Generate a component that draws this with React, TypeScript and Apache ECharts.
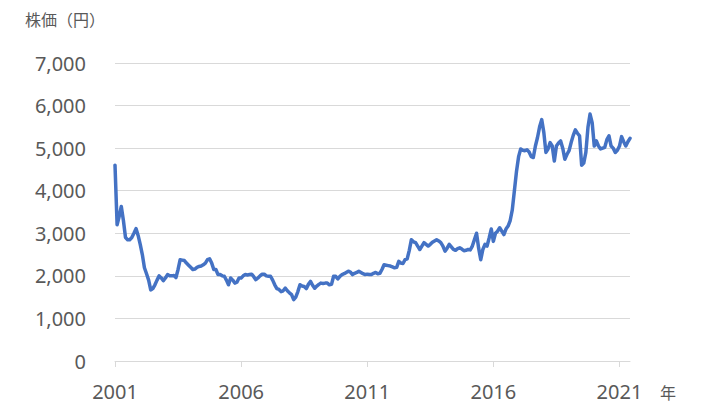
import React, { useEffect, useRef } from "react";
import * as echarts from "echarts";

// Monthly closing price (yen), Jan 2001 – Jun 2021
const price2001 = [4600, 3200, 3400, 3630, 3300, 2900, 2850, 2850, 2900, 3000, 3110, 2950];
const price2002 = [2740, 2500, 2190, 2050, 1900, 1670, 1700, 1790, 1900, 2000, 1950, 1890];
const price2003 = [1950, 2030, 2000, 2000, 2010, 1960, 2150, 2380, 2370, 2360, 2300, 2250];
const price2004 = [2200, 2150, 2160, 2200, 2220, 2230, 2260, 2300, 2380, 2400, 2300, 2150];
const price2005 = [2150, 2030, 2030, 2000, 1990, 1900, 1790, 1950, 1900, 1830, 1850, 1950];
const price2006 = [1950, 2000, 2030, 2020, 2030, 2040, 1980, 1910, 1950, 2000, 2040, 2040];
const price2007 = [2000, 1990, 1990, 1900, 1790, 1700, 1680, 1630, 1650, 1710, 1650, 1600];
const price2008 = [1560, 1440, 1500, 1630, 1790, 1760, 1750, 1700, 1800, 1870, 1780, 1710];
const price2009 = [1760, 1800, 1830, 1820, 1830, 1830, 1790, 1800, 1990, 1990, 1930, 1990];
const price2010 = [2030, 2050, 2080, 2110, 2090, 2030, 2060, 2080, 2110, 2080, 2050, 2030];
const price2011 = [2040, 2030, 2030, 2060, 2080, 2050, 2060, 2150, 2260, 2250, 2240, 2230];
const price2012 = [2210, 2190, 2200, 2340, 2300, 2290, 2380, 2400, 2600, 2850, 2800, 2780];
const price2013 = [2700, 2620, 2700, 2780, 2740, 2700, 2740, 2790, 2820, 2850, 2820, 2780];
const price2014 = [2700, 2580, 2650, 2740, 2680, 2620, 2600, 2640, 2660, 2630, 2590, 2600];
const price2015 = [2620, 2610, 2700, 2850, 3000, 2650, 2380, 2620, 2740, 2700, 2890, 3100];
const price2016 = [2810, 3000, 3050, 3130, 3050, 2970, 3100, 3170, 3300, 3550, 4000, 4450];
const price2017 = [4800, 4980, 4950, 4940, 4960, 4910, 4800, 4780, 5050, 5250, 5500, 5670];
const price2018 = [5370, 4900, 4980, 5130, 5050, 4700, 5050, 5120, 5170, 5000, 4740, 4850];
const price2019 = [4940, 5130, 5300, 5430, 5350, 5290, 4600, 4650, 4900, 5490, 5800, 5600];
const price2020 = [5050, 5170, 5050, 4980, 5000, 5020, 5200, 5290, 5050, 5000, 4900, 4950];
const price2021 = [5050, 5270, 5150, 5050, 5150, 5230];

const startYear = 2001;
const yearTicks = [2001, 2006, 2011, 2016, 2021];
const yMax = 7000;
const yInterval = 1000;

const prices = [
  ...price2001, ...price2002, ...price2003, ...price2004, ...price2005,
  ...price2006, ...price2007, ...price2008, ...price2009, ...price2010,
  ...price2011, ...price2012, ...price2013, ...price2014, ...price2015,
  ...price2016, ...price2017, ...price2018, ...price2019, ...price2020,
  ...price2021,
];

const months = prices.map((_, i) => {
  const y = startYear + Math.floor(i / 12);
  const m = (i % 12) + 1;
  return `${y}-${m < 10 ? "0" + m : m}`;
});

const tickIndexSet = new Set(yearTicks.map((y) => (y - startYear) * 12));

export default function App() {
  const ref = useRef<HTMLDivElement>(null);

  useEffect(() => {
    if (!ref.current) return;
    const chart = echarts.init(ref.current, undefined, { renderer: "svg" });
    const textColor = "#595959";
    const font = "'Noto Sans', 'Noto Sans CJK JP', sans-serif";
    chart.setOption({
      animation: false,
      backgroundColor: "#ffffff",
      textStyle: { fontFamily: font },
      grid: { left: 115, right: 90, top: 63, bottom: 55, containLabel: false },
      graphic: [
        {
          type: "text",
          left: 25,
          top: 12,
          style: { text: "株価（円）", fill: textColor, font: `16px ${font}` },
        },
        {
          type: "text",
          left: 660,
          top: 385,
          style: { text: "年", fill: textColor, font: `16px ${font}` },
        },
      ],
      xAxis: {
        type: "category",
        data: months,
        boundaryGap: false,
        axisLine: { show: true, lineStyle: { color: "#d9d9d9", width: 1 } },
        axisTick: {
          show: true,
          length: 6,
          interval: (index: number) => tickIndexSet.has(index),
          lineStyle: { color: "#d9d9d9" },
        },
        axisLabel: {
          interval: (index: number) => tickIndexSet.has(index),
          formatter: (v: string) => v.slice(0, 4),
          color: textColor,
          fontSize: 20,
          margin: 20,
          fontFamily: font,
        },
        splitLine: { show: false },
      },
      yAxis: {
        type: "value",
        min: 0,
        max: yMax,
        interval: yInterval,
        axisLine: { show: false },
        axisTick: { show: false },
        axisLabel: {
          color: textColor,
          fontSize: 20,
          margin: 29,
          fontFamily: font,
          formatter: (v: number) => v.toLocaleString("en-US"),
        },
        splitLine: { lineStyle: { color: "#d9d9d9", width: 1 } },
      },
      series: [
        {
          type: "line",
          data: prices,
          showSymbol: false,
          symbol: "none",
          lineStyle: { color: "#4472C4", width: 3.5, join: "round", cap: "round" },
        },
      ],
    });
    return () => chart.dispose();
  }, []);

  return (
    <div
      ref={ref}
      style={{ position: "fixed", left: 0, top: 0, width: 720, height: 416 }}
    />
  );
}
